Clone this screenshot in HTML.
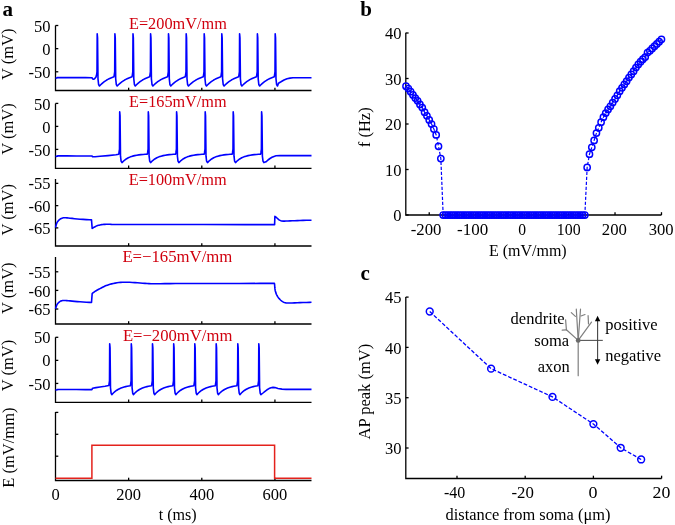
<!DOCTYPE html>
<html><head><meta charset="utf-8"><style>
html,body{margin:0;padding:0;background:#fff;overflow:hidden;width:675px;height:525px;}
svg{display:block;will-change:transform;}
text{font-family:"Liberation Serif", serif;fill:#000;}
</style></head><body>
<svg width="675" height="525" viewBox="0 0 675 525">
<rect width="675" height="525" fill="#fff"/>
<path d="M55.50 25.50V90.50H311.50" fill="none" stroke="#000" stroke-width="1.30"/>
<path d="M128.64 90.50V87.70" stroke="#000" stroke-width="1.30"/>
<path d="M201.79 90.50V87.70" stroke="#000" stroke-width="1.30"/>
<path d="M274.93 90.50V87.70" stroke="#000" stroke-width="1.30"/>
<path d="M55.50 25.50H58.30" stroke="#000" stroke-width="1.30"/>
<text x="50.6" y="31.60" text-anchor="end" font-size="16.5">50</text>
<path d="M55.50 48.64H58.30" stroke="#000" stroke-width="1.30"/>
<text x="50.6" y="54.74" text-anchor="end" font-size="16.5">0</text>
<path d="M55.50 71.79H58.30" stroke="#000" stroke-width="1.30"/>
<text x="50.6" y="77.89" text-anchor="end" font-size="16.5">-50</text>
<text transform="translate(13.3 54.30) rotate(-90)" text-anchor="middle" font-size="16.5">V (mV)</text>
<path d="M55.50 103.40V168.30H311.50" fill="none" stroke="#000" stroke-width="1.30"/>
<path d="M128.64 168.30V165.50" stroke="#000" stroke-width="1.30"/>
<path d="M201.79 168.30V165.50" stroke="#000" stroke-width="1.30"/>
<path d="M274.93 168.30V165.50" stroke="#000" stroke-width="1.30"/>
<path d="M55.50 103.40H58.30" stroke="#000" stroke-width="1.30"/>
<text x="50.6" y="109.50" text-anchor="end" font-size="16.5">50</text>
<path d="M55.50 126.40H58.30" stroke="#000" stroke-width="1.30"/>
<text x="50.6" y="132.50" text-anchor="end" font-size="16.5">0</text>
<path d="M55.50 149.40H58.30" stroke="#000" stroke-width="1.30"/>
<text x="50.6" y="155.50" text-anchor="end" font-size="16.5">-50</text>
<text transform="translate(13.3 129.00) rotate(-90)" text-anchor="middle" font-size="16.5">V (mV)</text>
<path d="M55.50 178.90V246.00H311.50" fill="none" stroke="#000" stroke-width="1.30"/>
<path d="M128.64 246.00V243.20" stroke="#000" stroke-width="1.30"/>
<path d="M201.79 246.00V243.20" stroke="#000" stroke-width="1.30"/>
<path d="M274.93 246.00V243.20" stroke="#000" stroke-width="1.30"/>
<path d="M55.50 183.35H58.30" stroke="#000" stroke-width="1.30"/>
<text x="50.6" y="189.45" text-anchor="end" font-size="16.5">-55</text>
<path d="M55.50 205.62H58.30" stroke="#000" stroke-width="1.30"/>
<text x="50.6" y="211.72" text-anchor="end" font-size="16.5">-60</text>
<path d="M55.50 227.89H58.30" stroke="#000" stroke-width="1.30"/>
<text x="50.6" y="233.99" text-anchor="end" font-size="16.5">-65</text>
<text transform="translate(13.3 209.80) rotate(-90)" text-anchor="middle" font-size="16.5">V (mV)</text>
<path d="M55.50 256.90V324.00H311.50" fill="none" stroke="#000" stroke-width="1.30"/>
<path d="M128.64 324.00V321.20" stroke="#000" stroke-width="1.30"/>
<path d="M201.79 324.00V321.20" stroke="#000" stroke-width="1.30"/>
<path d="M274.93 324.00V321.20" stroke="#000" stroke-width="1.30"/>
<path d="M55.50 271.79H58.30" stroke="#000" stroke-width="1.30"/>
<text x="50.6" y="277.89" text-anchor="end" font-size="16.5">-55</text>
<path d="M55.50 290.40H58.30" stroke="#000" stroke-width="1.30"/>
<text x="50.6" y="296.50" text-anchor="end" font-size="16.5">-60</text>
<path d="M55.50 309.01H58.30" stroke="#000" stroke-width="1.30"/>
<text x="50.6" y="315.11" text-anchor="end" font-size="16.5">-65</text>
<text transform="translate(13.3 288.20) rotate(-90)" text-anchor="middle" font-size="16.5">V (mV)</text>
<path d="M55.50 337.30V402.30H311.50" fill="none" stroke="#000" stroke-width="1.30"/>
<path d="M128.64 402.30V399.50" stroke="#000" stroke-width="1.30"/>
<path d="M201.79 402.30V399.50" stroke="#000" stroke-width="1.30"/>
<path d="M274.93 402.30V399.50" stroke="#000" stroke-width="1.30"/>
<path d="M55.50 337.30H58.30" stroke="#000" stroke-width="1.30"/>
<text x="50.6" y="343.40" text-anchor="end" font-size="16.5">50</text>
<path d="M55.50 360.37H58.30" stroke="#000" stroke-width="1.30"/>
<text x="50.6" y="366.47" text-anchor="end" font-size="16.5">0</text>
<path d="M55.50 383.44H58.30" stroke="#000" stroke-width="1.30"/>
<text x="50.6" y="389.54" text-anchor="end" font-size="16.5">-50</text>
<text transform="translate(13.3 365.60) rotate(-90)" text-anchor="middle" font-size="16.5">V (mV)</text>
<path d="M55.50 412.10V480.50H311.50" fill="none" stroke="#000" stroke-width="1.30"/>
<path d="M128.64 480.50V477.70" stroke="#000" stroke-width="1.30"/>
<path d="M201.79 480.50V477.70" stroke="#000" stroke-width="1.30"/>
<path d="M274.93 480.50V477.70" stroke="#000" stroke-width="1.30"/>
<path d="M55.50 412.40H58.30" stroke="#000" stroke-width="1.30"/>
<path d="M55.50 434.30H58.30" stroke="#000" stroke-width="1.30"/>
<path d="M55.50 456.20H58.30" stroke="#000" stroke-width="1.30"/>
<text transform="translate(14.2 447.6) rotate(-90)" text-anchor="middle" font-size="16.5">E (mV/mm)</text>
<text x="129.00" y="28.70" font-size="16.5" style="fill:#d0000e" textLength="97.80" lengthAdjust="spacingAndGlyphs">E=200mV/mm</text>
<text x="129.10" y="107.00" font-size="16.5" style="fill:#d0000e" textLength="97.50" lengthAdjust="spacingAndGlyphs">E=165mV/mm</text>
<text x="128.70" y="184.90" font-size="16.5" style="fill:#d0000e" textLength="97.90" lengthAdjust="spacingAndGlyphs">E=100mV/mm</text>
<text x="122.40" y="262.40" font-size="16.5" style="fill:#d0000e" textLength="110.00" lengthAdjust="spacingAndGlyphs">E=−165mV/mm</text>
<text x="122.90" y="340.60" font-size="16.5" style="fill:#d0000e" textLength="109.50" lengthAdjust="spacingAndGlyphs">E=−200mV/mm</text>
<path d="M55.50 78.30L55.84 78.20L56.31 78.06L56.88 77.92L57.50 77.80L57.52 77.72L57.17 77.66L57.74 77.62L60.50 77.60L67.06 77.61L76.32 77.64L85.49 77.67L91.77 77.70L92.07 77.80L92.67 79.00L93.57 79.30L94.57 78.80L96.00 77.00L96.50 75.30L97.00 71.80L97.20 33.70L97.55 37.70L98.00 78.80L98.60 84.50L99.50 86.00L100.70 84.75L101.90 83.61L103.10 82.59L104.30 81.66L105.50 80.82L106.70 80.06L107.90 79.37L109.10 78.75L110.30 78.19L111.50 77.68L112.70 77.22L113.90 76.80L114.20 75.30L114.70 71.80L114.90 33.70L115.25 37.70L115.70 78.80L116.30 84.50L117.20 86.00L118.43 84.75L119.67 83.61L120.90 82.59L122.13 81.66L123.37 80.82L124.60 80.06L125.83 79.37L127.07 78.75L128.30 78.19L129.53 77.68L130.77 77.22L132.00 76.80L132.30 75.30L132.80 71.80L133.00 33.70L133.35 37.70L133.80 78.80L134.40 84.50L135.30 86.00L136.49 84.75L137.68 83.61L138.88 82.59L140.07 81.66L141.26 80.82L142.45 80.06L143.64 79.37L144.83 78.75L146.03 78.19L147.22 77.68L148.41 77.22L149.60 76.80L149.90 75.30L150.40 71.80L150.60 33.70L150.95 37.70L151.40 78.80L152.00 84.50L152.90 86.00L154.12 84.75L155.33 83.61L156.55 82.59L157.77 81.66L158.98 80.82L160.20 80.06L161.42 79.37L162.63 78.75L163.85 78.19L165.07 77.68L166.28 77.22L167.50 76.80L167.80 75.30L168.30 71.80L168.50 33.70L168.85 37.70L169.30 78.80L169.90 84.50L170.80 86.00L172.00 84.75L173.20 83.61L174.40 82.59L175.60 81.66L176.80 80.82L178.00 80.06L179.20 79.37L180.40 78.75L181.60 78.19L182.80 77.68L184.00 77.22L185.20 76.80L185.50 75.30L186.00 71.80L186.20 33.70L186.55 37.70L187.00 78.80L187.60 84.50L188.50 86.00L189.72 84.75L190.95 83.61L192.18 82.59L193.40 81.66L194.62 80.82L195.85 80.06L197.07 79.37L198.30 78.75L199.52 78.19L200.75 77.68L201.97 77.22L203.20 76.80L203.50 75.30L204.00 71.80L204.20 33.70L204.55 37.70L205.00 78.80L205.60 84.50L206.50 86.00L207.69 84.75L208.88 83.61L210.07 82.59L211.27 81.66L212.46 80.82L213.65 80.06L214.84 79.37L216.03 78.75L217.22 78.19L218.42 77.68L219.61 77.22L220.80 76.80L221.10 75.30L221.60 71.80L221.80 33.70L222.15 37.70L222.60 78.80L223.20 84.50L224.10 86.00L225.31 84.75L226.52 83.61L227.72 82.59L228.93 81.66L230.14 80.82L231.35 80.06L232.56 79.37L233.77 78.75L234.97 78.19L236.18 77.68L237.39 77.22L238.60 76.80L238.90 75.30L239.40 71.80L239.60 33.70L239.95 37.70L240.40 78.80L241.00 84.50L241.90 86.00L243.11 84.75L244.32 83.61L245.53 82.59L246.73 81.66L247.94 80.82L249.15 80.06L250.36 79.37L251.57 78.75L252.77 78.19L253.98 77.68L255.19 77.22L256.40 76.80L256.70 75.30L257.20 71.80L257.40 33.70L257.75 37.70L258.20 78.80L258.80 84.50L259.70 86.00L260.91 84.75L262.12 83.61L263.32 82.59L264.53 81.66L265.74 80.82L266.95 80.06L268.16 79.37L269.37 78.75L270.57 78.19L271.78 77.68L272.99 77.22L274.20 76.80L274.50 75.30L275.00 71.80L275.20 33.70L275.55 37.70L276.00 78.80L276.60 84.50L277.50 86.00L278.50 83.20L281.00 81.80L284.00 80.00L287.00 78.80L290.00 78.10L293.00 77.80L311.50 77.80" fill="none" stroke="#0000ff" stroke-width="1.60" stroke-linejoin="round"/>
<path d="M55.50 156.60L55.84 156.50L56.31 156.36L56.88 156.22L57.50 156.10L57.52 156.02L57.17 155.96L57.74 155.92L60.50 155.90L67.06 155.91L76.32 155.94L85.49 155.98L91.77 156.00L92.07 156.00L92.57 156.80L95.07 156.70L100.00 156.30L108.00 155.60L116.00 154.80L118.80 154.20L119.00 152.70L119.50 149.20L119.70 111.90L120.05 115.90L120.50 156.20L121.10 161.10L122.00 162.60L124.11 160.55L126.22 158.98L128.32 157.78L130.43 156.86L132.54 156.15L134.65 155.61L136.76 155.20L138.87 154.88L140.97 154.64L143.08 154.45L145.19 154.31L147.30 154.20L147.60 152.70L148.10 149.20L148.30 111.90L148.65 115.90L149.10 156.20L149.70 161.10L150.60 162.60L152.68 160.55L154.77 158.98L156.85 157.78L158.93 156.86L161.02 156.15L163.10 155.61L165.18 155.20L167.27 154.88L169.35 154.64L171.43 154.45L173.52 154.31L175.60 154.20L175.90 152.70L176.40 149.20L176.60 111.90L176.95 115.90L177.40 156.20L178.00 161.10L178.90 162.60L181.01 160.55L183.12 158.98L185.22 157.78L187.33 156.86L189.44 156.15L191.55 155.61L193.66 155.20L195.77 154.88L197.88 154.64L199.98 154.45L202.09 154.31L204.20 154.20L204.50 152.70L205.00 149.20L205.20 111.90L205.55 115.90L206.00 156.20L206.60 161.10L207.50 162.60L209.56 160.55L211.62 158.98L213.68 157.78L215.73 156.86L217.79 156.15L219.85 155.61L221.91 155.20L223.97 154.88L226.02 154.64L228.08 154.45L230.14 154.31L232.20 154.20L232.50 152.70L233.00 149.20L233.20 111.90L233.55 115.90L234.00 156.20L234.60 161.10L235.50 162.60L237.59 160.55L239.68 158.98L241.77 157.78L243.87 156.86L245.96 156.15L248.05 155.61L250.14 155.20L252.23 154.88L254.32 154.64L256.42 154.45L258.51 154.31L260.60 154.20L260.90 152.70L261.40 149.20L261.60 111.90L261.95 115.90L262.40 156.20L263.00 161.10L263.90 162.60L266.00 161.80L268.00 160.00L270.00 158.50L272.00 157.30L274.00 156.40L276.00 155.80L280.00 155.60L311.50 155.60" fill="none" stroke="#0000ff" stroke-width="1.60" stroke-linejoin="round"/>
<path d="M55.50 390.20L55.84 390.10L56.31 389.96L56.88 389.82L57.50 389.70L57.52 389.62L57.17 389.56L57.74 389.52L60.50 389.50L67.06 389.51L76.32 389.54L85.49 389.58L91.77 389.60L92.07 389.30L92.57 388.20L96.00 387.60L100.00 387.00L105.00 386.20L108.80 385.50L109.00 384.30L109.50 380.80L109.70 343.70L110.05 347.70L110.50 387.80L111.10 393.20L111.80 394.70L113.34 393.02L114.88 391.63L116.42 390.47L117.97 389.50L119.51 388.69L121.05 388.02L122.59 387.46L124.13 387.00L125.67 386.61L127.22 386.29L128.76 386.02L130.30 385.80L130.60 384.30L131.10 380.80L131.30 343.70L131.65 347.70L132.10 387.80L132.70 393.20L133.40 394.70L134.91 393.02L136.42 391.63L137.93 390.47L139.43 389.50L140.94 388.69L142.45 388.02L143.96 387.46L145.47 387.00L146.97 386.61L148.48 386.29L149.99 386.02L151.50 385.80L151.80 384.30L152.30 380.80L152.50 343.70L152.85 347.70L153.30 387.80L153.90 393.20L154.60 394.70L156.11 393.02L157.62 391.63L159.12 390.47L160.63 389.50L162.14 388.69L163.65 388.02L165.16 387.46L166.67 387.00L168.18 386.61L169.68 386.29L171.19 386.02L172.70 385.80L173.00 384.30L173.50 380.80L173.70 343.70L174.05 347.70L174.50 387.80L175.10 393.20L175.80 394.70L177.30 393.02L178.80 391.63L180.30 390.47L181.80 389.50L183.30 388.69L184.80 388.02L186.30 387.46L187.80 387.00L189.30 386.61L190.80 386.29L192.30 386.02L193.80 385.80L194.10 384.30L194.60 380.80L194.80 343.70L195.15 347.70L195.60 387.80L196.20 393.20L196.90 394.70L198.43 393.02L199.95 391.63L201.47 390.47L203.00 389.50L204.53 388.69L206.05 388.02L207.57 387.46L209.10 387.00L210.62 386.61L212.15 386.29L213.67 386.02L215.20 385.80L215.50 384.30L216.00 380.80L216.20 343.70L216.55 347.70L217.00 387.80L217.60 393.20L218.30 394.70L219.84 393.02L221.38 391.63L222.93 390.47L224.47 389.50L226.01 388.69L227.55 388.02L229.09 387.46L230.63 387.00L232.17 386.61L233.72 386.29L235.26 386.02L236.80 385.80L237.10 384.30L237.60 380.80L237.80 343.70L238.15 347.70L238.60 387.80L239.20 393.20L239.90 394.70L241.39 393.02L242.88 391.63L244.38 390.47L245.87 389.50L247.36 388.69L248.85 388.02L250.34 387.46L251.83 387.00L253.33 386.61L254.82 386.29L256.31 386.02L257.80 385.80L258.10 384.30L258.60 380.80L258.80 343.70L259.15 347.70L259.60 387.80L260.20 393.20L260.90 394.70L263.00 393.00L265.00 391.30L267.00 389.80L269.00 388.60L271.00 387.80L273.00 387.40L275.00 387.60L278.00 388.50L282.00 389.10L286.00 389.40L311.50 389.40" fill="none" stroke="#0000ff" stroke-width="1.60" stroke-linejoin="round"/>
<path d="M55.50 227.60L55.75 226.65L56.09 225.29L56.52 223.83L57.00 222.60L57.55 221.67L58.19 220.88L58.85 220.19L59.50 219.60L60.11 219.12L60.72 218.74L61.34 218.45L62.00 218.20L62.67 217.99L63.34 217.83L64.10 217.73L65.00 217.70L65.99 217.74L67.06 217.86L68.35 218.02L70.00 218.20L72.11 218.42L74.59 218.69L77.28 218.96L80.00 219.20L83.04 219.41L86.38 219.61L89.40 219.78L91.50 219.90L92.17 228.40L92.47 228.21L92.90 227.94L93.42 227.63L94.00 227.30L94.67 226.94L95.43 226.53L96.22 226.14L97.00 225.80L97.73 225.55L98.44 225.34L99.18 225.17L100.00 225.00L100.88 224.82L101.81 224.66L102.84 224.51L104.00 224.40L105.03 224.33L106.00 224.30L107.47 224.29L110.00 224.30L111.10 224.33L111.34 224.39L115.91 224.45L130.00 224.50L160.78 224.53L203.55 224.56L245.70 224.58L274.60 224.60L274.90 216.40L275.18 216.60L275.57 216.89L276.03 217.23L276.50 217.60L276.97 218.02L277.48 218.50L277.99 218.98L278.50 219.40L278.99 219.76L279.47 220.08L279.96 220.36L280.50 220.60L280.98 220.79L281.44 220.94L282.05 221.04L283.00 221.10L284.36 221.10L286.03 221.06L287.93 220.98L290.00 220.90L292.25 220.81L294.72 220.71L297.32 220.60L300.00 220.50L303.04 220.41L306.38 220.32L309.40 220.25L311.50 220.20" fill="none" stroke="#0000ff" stroke-width="1.60" stroke-linejoin="round"/>
<path d="M55.50 308.80L55.75 308.01L56.09 306.88L56.52 305.65L57.00 304.60L57.55 303.76L58.19 303.01L58.85 302.35L59.50 301.80L60.12 301.38L60.75 301.09L61.38 300.87L62.00 300.70L62.55 300.57L63.06 300.51L63.66 300.49L64.50 300.50L65.56 300.55L66.78 300.63L68.24 300.75L70.00 300.90L72.15 301.09L74.62 301.33L77.29 301.58L80.00 301.80L83.04 302.01L86.38 302.21L89.40 302.38L91.50 302.50L92.17 293.60L92.63 293.22L93.27 292.68L94.07 292.04L95.00 291.40L96.10 290.74L97.36 290.02L98.70 289.29L100.00 288.60L101.25 287.94L102.50 287.29L103.75 286.67L105.00 286.10L106.20 285.59L107.38 285.14L108.61 284.71L110.00 284.30L111.59 283.88L113.33 283.48L115.15 283.10L117.00 282.80L118.81 282.56L120.64 282.38L122.58 282.26L124.70 282.20L127.10 282.22L129.71 282.31L132.39 282.45L135.00 282.60L137.55 282.78L140.10 283.00L142.60 283.22L145.00 283.40L147.09 283.54L148.96 283.66L151.02 283.75L153.70 283.80L156.92 283.79L160.52 283.73L164.78 283.66L170.00 283.60L175.50 283.57L181.37 283.54L189.06 283.52L200.00 283.50L217.22 283.47L239.07 283.44L259.99 283.42L274.40 283.40L274.60 284.50L274.68 285.60L274.79 287.19L274.95 288.93L275.20 290.50L275.54 291.84L275.95 293.12L276.44 294.34L277.00 295.50L277.67 296.61L278.43 297.66L279.22 298.64L280.00 299.50L280.75 300.25L281.50 300.89L282.25 301.44L283.00 301.90L283.73 302.27L284.44 302.54L285.18 302.75L286.00 302.90L286.79 303.00L287.56 303.04L288.55 303.03L290.00 303.00L292.04 302.93L294.53 302.83L297.25 302.70L300.00 302.60L303.04 302.51L306.38 302.43L309.40 302.35L311.50 302.30" fill="none" stroke="#0000ff" stroke-width="1.60" stroke-linejoin="round"/>
<path d="M55.50 478.2H91.90V445.3H274.60V478.2H311.50" fill="none" stroke="#e4221c" stroke-width="1.5"/>
<text x="55.50" y="500.0" text-anchor="middle" font-size="16.5">0</text>
<text x="128.64" y="500.0" text-anchor="middle" font-size="16.5">200</text>
<text x="201.79" y="500.0" text-anchor="middle" font-size="16.5">400</text>
<text x="274.93" y="500.0" text-anchor="middle" font-size="16.5">600</text>
<text x="158.7" y="519.7" font-size="16.5" textLength="38" lengthAdjust="spacingAndGlyphs">t (ms)</text>
<text x="2.5" y="15.6" font-size="21" font-weight="bold">a</text>
<path d="M405.8 32.8V215.0H661.5" fill="none" stroke="#000" stroke-width="1.30"/>
<path d="M405.8 215.00H408.6" stroke="#000" stroke-width="1.30"/>
<text x="401.6" y="221.10" text-anchor="end" font-size="16.5">0</text>
<path d="M405.8 169.50H408.6" stroke="#000" stroke-width="1.30"/>
<text x="401.6" y="175.60" text-anchor="end" font-size="16.5">10</text>
<path d="M405.8 124.00H408.6" stroke="#000" stroke-width="1.30"/>
<text x="401.6" y="130.10" text-anchor="end" font-size="16.5">20</text>
<path d="M405.8 78.50H408.6" stroke="#000" stroke-width="1.30"/>
<text x="401.6" y="84.60" text-anchor="end" font-size="16.5">30</text>
<path d="M405.8 33.00H408.6" stroke="#000" stroke-width="1.30"/>
<text x="401.6" y="39.10" text-anchor="end" font-size="16.5">40</text>
<path d="M429.23 215.0V212.2" stroke="#000" stroke-width="1.30"/>
<text x="410.80" y="234.8" font-size="16.5" textLength="30.70" lengthAdjust="spacingAndGlyphs">-200</text>
<path d="M475.68 215.0V212.2" stroke="#000" stroke-width="1.30"/>
<text x="457.10" y="234.8" font-size="16.5" textLength="31.10" lengthAdjust="spacingAndGlyphs">-100</text>
<path d="M522.12 215.0V212.2" stroke="#000" stroke-width="1.30"/>
<text x="518.30" y="234.8" font-size="16.5" textLength="7.80" lengthAdjust="spacingAndGlyphs">0</text>
<path d="M568.58 215.0V212.2" stroke="#000" stroke-width="1.30"/>
<text x="556.80" y="234.8" font-size="16.5" textLength="23.80" lengthAdjust="spacingAndGlyphs">100</text>
<path d="M615.02 215.0V212.2" stroke="#000" stroke-width="1.30"/>
<text x="601.80" y="234.8" font-size="16.5" textLength="25.10" lengthAdjust="spacingAndGlyphs">200</text>
<path d="M661.48 215.0V212.2" stroke="#000" stroke-width="1.30"/>
<text x="648.70" y="234.8" font-size="16.5" textLength="24.90" lengthAdjust="spacingAndGlyphs">300</text>
<text x="488.9" y="255.7" font-size="16.5" textLength="77.8" lengthAdjust="spacingAndGlyphs">E (mV/mm)</text>
<text transform="translate(369.8 127.3) rotate(-90)" text-anchor="middle" font-size="16.5">f (Hz)</text>
<text x="360.3" y="15.8" font-size="21" font-weight="bold">b</text>
<path d="M406.00 86.24L408.32 88.51L410.64 91.69L412.97 94.88L415.29 98.07L417.61 100.80L419.94 104.44L422.26 107.62L424.58 112.17L426.90 115.81L429.23 119.91L431.55 124.00L433.87 129.00L436.19 134.92L438.51 146.30L440.84 158.58L443.16 215.00L445.48 215.00L447.81 215.00L450.13 215.00L452.45 215.00L454.77 215.00L457.10 215.00L459.42 215.00L461.74 215.00L464.06 215.00L466.38 215.00L468.71 215.00L471.03 215.00L473.35 215.00L475.68 215.00L478.00 215.00L480.32 215.00L482.64 215.00L484.97 215.00L487.29 215.00L489.61 215.00L491.93 215.00L494.25 215.00L496.58 215.00L498.90 215.00L501.22 215.00L503.55 215.00L505.87 215.00L508.19 215.00L510.51 215.00L512.84 215.00L515.16 215.00L517.48 215.00L519.80 215.00L522.12 215.00L524.45 215.00L526.77 215.00L529.09 215.00L531.41 215.00L533.74 215.00L536.06 215.00L538.38 215.00L540.71 215.00L543.03 215.00L545.35 215.00L547.67 215.00L550.00 215.00L552.32 215.00L554.64 215.00L556.96 215.00L559.28 215.00L561.61 215.00L563.93 215.00L566.25 215.00L568.58 215.00L570.90 215.00L573.22 215.00L575.54 215.00L577.87 215.00L580.19 215.00L582.51 215.00L584.83 215.00L587.15 167.41L589.48 154.17L591.80 147.34L594.12 140.43L596.45 133.10L598.77 127.82L601.09 122.18L603.41 117.17L605.74 113.08L608.06 109.44L610.38 106.26L612.70 102.62L615.02 98.98L617.35 95.34L619.67 91.24L621.99 87.83L624.32 84.42L626.64 81.23L628.96 77.59L631.28 74.41L633.61 71.22L635.93 67.58L638.25 64.40L640.57 61.66L642.89 59.16L645.22 57.11L647.54 52.56L649.86 50.75L652.18 48.47L654.51 46.19L656.83 43.92L659.15 41.65L661.48 39.37" fill="none" stroke="#0000ff" stroke-width="1.2" stroke-dasharray="3.2 1.8"/>
<circle cx="406.00" cy="86.24" r="3.15" fill="none" stroke="#0000ff" stroke-width="1.45"/>
<circle cx="408.32" cy="88.51" r="3.15" fill="none" stroke="#0000ff" stroke-width="1.45"/>
<circle cx="410.64" cy="91.69" r="3.15" fill="none" stroke="#0000ff" stroke-width="1.45"/>
<circle cx="412.97" cy="94.88" r="3.15" fill="none" stroke="#0000ff" stroke-width="1.45"/>
<circle cx="415.29" cy="98.07" r="3.15" fill="none" stroke="#0000ff" stroke-width="1.45"/>
<circle cx="417.61" cy="100.80" r="3.15" fill="none" stroke="#0000ff" stroke-width="1.45"/>
<circle cx="419.94" cy="104.44" r="3.15" fill="none" stroke="#0000ff" stroke-width="1.45"/>
<circle cx="422.26" cy="107.62" r="3.15" fill="none" stroke="#0000ff" stroke-width="1.45"/>
<circle cx="424.58" cy="112.17" r="3.15" fill="none" stroke="#0000ff" stroke-width="1.45"/>
<circle cx="426.90" cy="115.81" r="3.15" fill="none" stroke="#0000ff" stroke-width="1.45"/>
<circle cx="429.23" cy="119.91" r="3.15" fill="none" stroke="#0000ff" stroke-width="1.45"/>
<circle cx="431.55" cy="124.00" r="3.15" fill="none" stroke="#0000ff" stroke-width="1.45"/>
<circle cx="433.87" cy="129.00" r="3.15" fill="none" stroke="#0000ff" stroke-width="1.45"/>
<circle cx="436.19" cy="134.92" r="3.15" fill="none" stroke="#0000ff" stroke-width="1.45"/>
<circle cx="438.51" cy="146.30" r="3.15" fill="none" stroke="#0000ff" stroke-width="1.45"/>
<circle cx="440.84" cy="158.58" r="3.15" fill="none" stroke="#0000ff" stroke-width="1.45"/>
<circle cx="443.16" cy="215.00" r="3.15" fill="none" stroke="#0000ff" stroke-width="1.45"/>
<circle cx="445.48" cy="215.00" r="3.15" fill="none" stroke="#0000ff" stroke-width="1.45"/>
<circle cx="447.81" cy="215.00" r="3.15" fill="none" stroke="#0000ff" stroke-width="1.45"/>
<circle cx="450.13" cy="215.00" r="3.15" fill="none" stroke="#0000ff" stroke-width="1.45"/>
<circle cx="452.45" cy="215.00" r="3.15" fill="none" stroke="#0000ff" stroke-width="1.45"/>
<circle cx="454.77" cy="215.00" r="3.15" fill="none" stroke="#0000ff" stroke-width="1.45"/>
<circle cx="457.10" cy="215.00" r="3.15" fill="none" stroke="#0000ff" stroke-width="1.45"/>
<circle cx="459.42" cy="215.00" r="3.15" fill="none" stroke="#0000ff" stroke-width="1.45"/>
<circle cx="461.74" cy="215.00" r="3.15" fill="none" stroke="#0000ff" stroke-width="1.45"/>
<circle cx="464.06" cy="215.00" r="3.15" fill="none" stroke="#0000ff" stroke-width="1.45"/>
<circle cx="466.38" cy="215.00" r="3.15" fill="none" stroke="#0000ff" stroke-width="1.45"/>
<circle cx="468.71" cy="215.00" r="3.15" fill="none" stroke="#0000ff" stroke-width="1.45"/>
<circle cx="471.03" cy="215.00" r="3.15" fill="none" stroke="#0000ff" stroke-width="1.45"/>
<circle cx="473.35" cy="215.00" r="3.15" fill="none" stroke="#0000ff" stroke-width="1.45"/>
<circle cx="475.68" cy="215.00" r="3.15" fill="none" stroke="#0000ff" stroke-width="1.45"/>
<circle cx="478.00" cy="215.00" r="3.15" fill="none" stroke="#0000ff" stroke-width="1.45"/>
<circle cx="480.32" cy="215.00" r="3.15" fill="none" stroke="#0000ff" stroke-width="1.45"/>
<circle cx="482.64" cy="215.00" r="3.15" fill="none" stroke="#0000ff" stroke-width="1.45"/>
<circle cx="484.97" cy="215.00" r="3.15" fill="none" stroke="#0000ff" stroke-width="1.45"/>
<circle cx="487.29" cy="215.00" r="3.15" fill="none" stroke="#0000ff" stroke-width="1.45"/>
<circle cx="489.61" cy="215.00" r="3.15" fill="none" stroke="#0000ff" stroke-width="1.45"/>
<circle cx="491.93" cy="215.00" r="3.15" fill="none" stroke="#0000ff" stroke-width="1.45"/>
<circle cx="494.25" cy="215.00" r="3.15" fill="none" stroke="#0000ff" stroke-width="1.45"/>
<circle cx="496.58" cy="215.00" r="3.15" fill="none" stroke="#0000ff" stroke-width="1.45"/>
<circle cx="498.90" cy="215.00" r="3.15" fill="none" stroke="#0000ff" stroke-width="1.45"/>
<circle cx="501.22" cy="215.00" r="3.15" fill="none" stroke="#0000ff" stroke-width="1.45"/>
<circle cx="503.55" cy="215.00" r="3.15" fill="none" stroke="#0000ff" stroke-width="1.45"/>
<circle cx="505.87" cy="215.00" r="3.15" fill="none" stroke="#0000ff" stroke-width="1.45"/>
<circle cx="508.19" cy="215.00" r="3.15" fill="none" stroke="#0000ff" stroke-width="1.45"/>
<circle cx="510.51" cy="215.00" r="3.15" fill="none" stroke="#0000ff" stroke-width="1.45"/>
<circle cx="512.84" cy="215.00" r="3.15" fill="none" stroke="#0000ff" stroke-width="1.45"/>
<circle cx="515.16" cy="215.00" r="3.15" fill="none" stroke="#0000ff" stroke-width="1.45"/>
<circle cx="517.48" cy="215.00" r="3.15" fill="none" stroke="#0000ff" stroke-width="1.45"/>
<circle cx="519.80" cy="215.00" r="3.15" fill="none" stroke="#0000ff" stroke-width="1.45"/>
<circle cx="522.12" cy="215.00" r="3.15" fill="none" stroke="#0000ff" stroke-width="1.45"/>
<circle cx="524.45" cy="215.00" r="3.15" fill="none" stroke="#0000ff" stroke-width="1.45"/>
<circle cx="526.77" cy="215.00" r="3.15" fill="none" stroke="#0000ff" stroke-width="1.45"/>
<circle cx="529.09" cy="215.00" r="3.15" fill="none" stroke="#0000ff" stroke-width="1.45"/>
<circle cx="531.41" cy="215.00" r="3.15" fill="none" stroke="#0000ff" stroke-width="1.45"/>
<circle cx="533.74" cy="215.00" r="3.15" fill="none" stroke="#0000ff" stroke-width="1.45"/>
<circle cx="536.06" cy="215.00" r="3.15" fill="none" stroke="#0000ff" stroke-width="1.45"/>
<circle cx="538.38" cy="215.00" r="3.15" fill="none" stroke="#0000ff" stroke-width="1.45"/>
<circle cx="540.71" cy="215.00" r="3.15" fill="none" stroke="#0000ff" stroke-width="1.45"/>
<circle cx="543.03" cy="215.00" r="3.15" fill="none" stroke="#0000ff" stroke-width="1.45"/>
<circle cx="545.35" cy="215.00" r="3.15" fill="none" stroke="#0000ff" stroke-width="1.45"/>
<circle cx="547.67" cy="215.00" r="3.15" fill="none" stroke="#0000ff" stroke-width="1.45"/>
<circle cx="550.00" cy="215.00" r="3.15" fill="none" stroke="#0000ff" stroke-width="1.45"/>
<circle cx="552.32" cy="215.00" r="3.15" fill="none" stroke="#0000ff" stroke-width="1.45"/>
<circle cx="554.64" cy="215.00" r="3.15" fill="none" stroke="#0000ff" stroke-width="1.45"/>
<circle cx="556.96" cy="215.00" r="3.15" fill="none" stroke="#0000ff" stroke-width="1.45"/>
<circle cx="559.28" cy="215.00" r="3.15" fill="none" stroke="#0000ff" stroke-width="1.45"/>
<circle cx="561.61" cy="215.00" r="3.15" fill="none" stroke="#0000ff" stroke-width="1.45"/>
<circle cx="563.93" cy="215.00" r="3.15" fill="none" stroke="#0000ff" stroke-width="1.45"/>
<circle cx="566.25" cy="215.00" r="3.15" fill="none" stroke="#0000ff" stroke-width="1.45"/>
<circle cx="568.58" cy="215.00" r="3.15" fill="none" stroke="#0000ff" stroke-width="1.45"/>
<circle cx="570.90" cy="215.00" r="3.15" fill="none" stroke="#0000ff" stroke-width="1.45"/>
<circle cx="573.22" cy="215.00" r="3.15" fill="none" stroke="#0000ff" stroke-width="1.45"/>
<circle cx="575.54" cy="215.00" r="3.15" fill="none" stroke="#0000ff" stroke-width="1.45"/>
<circle cx="577.87" cy="215.00" r="3.15" fill="none" stroke="#0000ff" stroke-width="1.45"/>
<circle cx="580.19" cy="215.00" r="3.15" fill="none" stroke="#0000ff" stroke-width="1.45"/>
<circle cx="582.51" cy="215.00" r="3.15" fill="none" stroke="#0000ff" stroke-width="1.45"/>
<circle cx="584.83" cy="215.00" r="3.15" fill="none" stroke="#0000ff" stroke-width="1.45"/>
<circle cx="587.15" cy="167.41" r="3.15" fill="none" stroke="#0000ff" stroke-width="1.45"/>
<circle cx="589.48" cy="154.17" r="3.15" fill="none" stroke="#0000ff" stroke-width="1.45"/>
<circle cx="591.80" cy="147.34" r="3.15" fill="none" stroke="#0000ff" stroke-width="1.45"/>
<circle cx="594.12" cy="140.43" r="3.15" fill="none" stroke="#0000ff" stroke-width="1.45"/>
<circle cx="596.45" cy="133.10" r="3.15" fill="none" stroke="#0000ff" stroke-width="1.45"/>
<circle cx="598.77" cy="127.82" r="3.15" fill="none" stroke="#0000ff" stroke-width="1.45"/>
<circle cx="601.09" cy="122.18" r="3.15" fill="none" stroke="#0000ff" stroke-width="1.45"/>
<circle cx="603.41" cy="117.17" r="3.15" fill="none" stroke="#0000ff" stroke-width="1.45"/>
<circle cx="605.74" cy="113.08" r="3.15" fill="none" stroke="#0000ff" stroke-width="1.45"/>
<circle cx="608.06" cy="109.44" r="3.15" fill="none" stroke="#0000ff" stroke-width="1.45"/>
<circle cx="610.38" cy="106.26" r="3.15" fill="none" stroke="#0000ff" stroke-width="1.45"/>
<circle cx="612.70" cy="102.62" r="3.15" fill="none" stroke="#0000ff" stroke-width="1.45"/>
<circle cx="615.02" cy="98.98" r="3.15" fill="none" stroke="#0000ff" stroke-width="1.45"/>
<circle cx="617.35" cy="95.34" r="3.15" fill="none" stroke="#0000ff" stroke-width="1.45"/>
<circle cx="619.67" cy="91.24" r="3.15" fill="none" stroke="#0000ff" stroke-width="1.45"/>
<circle cx="621.99" cy="87.83" r="3.15" fill="none" stroke="#0000ff" stroke-width="1.45"/>
<circle cx="624.32" cy="84.42" r="3.15" fill="none" stroke="#0000ff" stroke-width="1.45"/>
<circle cx="626.64" cy="81.23" r="3.15" fill="none" stroke="#0000ff" stroke-width="1.45"/>
<circle cx="628.96" cy="77.59" r="3.15" fill="none" stroke="#0000ff" stroke-width="1.45"/>
<circle cx="631.28" cy="74.41" r="3.15" fill="none" stroke="#0000ff" stroke-width="1.45"/>
<circle cx="633.61" cy="71.22" r="3.15" fill="none" stroke="#0000ff" stroke-width="1.45"/>
<circle cx="635.93" cy="67.58" r="3.15" fill="none" stroke="#0000ff" stroke-width="1.45"/>
<circle cx="638.25" cy="64.40" r="3.15" fill="none" stroke="#0000ff" stroke-width="1.45"/>
<circle cx="640.57" cy="61.66" r="3.15" fill="none" stroke="#0000ff" stroke-width="1.45"/>
<circle cx="642.89" cy="59.16" r="3.15" fill="none" stroke="#0000ff" stroke-width="1.45"/>
<circle cx="645.22" cy="57.11" r="3.15" fill="none" stroke="#0000ff" stroke-width="1.45"/>
<circle cx="647.54" cy="52.56" r="3.15" fill="none" stroke="#0000ff" stroke-width="1.45"/>
<circle cx="649.86" cy="50.75" r="3.15" fill="none" stroke="#0000ff" stroke-width="1.45"/>
<circle cx="652.18" cy="48.47" r="3.15" fill="none" stroke="#0000ff" stroke-width="1.45"/>
<circle cx="654.51" cy="46.19" r="3.15" fill="none" stroke="#0000ff" stroke-width="1.45"/>
<circle cx="656.83" cy="43.92" r="3.15" fill="none" stroke="#0000ff" stroke-width="1.45"/>
<circle cx="659.15" cy="41.65" r="3.15" fill="none" stroke="#0000ff" stroke-width="1.45"/>
<circle cx="661.48" cy="39.37" r="3.15" fill="none" stroke="#0000ff" stroke-width="1.45"/>
<path d="M405.8 297.1V478.5H661.6" fill="none" stroke="#000" stroke-width="1.30"/>
<path d="M405.8 448.00H408.6" stroke="#000" stroke-width="1.30"/>
<text x="401.6" y="454.10" text-anchor="end" font-size="16.5">30</text>
<path d="M405.8 397.70H408.6" stroke="#000" stroke-width="1.30"/>
<text x="401.6" y="403.80" text-anchor="end" font-size="16.5">35</text>
<path d="M405.8 347.40H408.6" stroke="#000" stroke-width="1.30"/>
<text x="401.6" y="353.50" text-anchor="end" font-size="16.5">40</text>
<path d="M405.8 297.10H408.6" stroke="#000" stroke-width="1.30"/>
<text x="401.6" y="303.20" text-anchor="end" font-size="16.5">45</text>
<path d="M457.00 478.5V475.7" stroke="#000" stroke-width="1.30"/>
<text x="443.90" y="498.2" font-size="16.5" textLength="21.30" lengthAdjust="spacingAndGlyphs">-40</text>
<path d="M525.20 478.5V475.7" stroke="#000" stroke-width="1.30"/>
<text x="511.50" y="498.2" font-size="16.5" textLength="22.40" lengthAdjust="spacingAndGlyphs">-20</text>
<path d="M593.40 478.5V475.7" stroke="#000" stroke-width="1.30"/>
<text x="588.60" y="498.2" font-size="16.5" textLength="9.00" lengthAdjust="spacingAndGlyphs">0</text>
<path d="M661.60 478.5V475.7" stroke="#000" stroke-width="1.30"/>
<text x="652.60" y="498.2" font-size="16.5" textLength="17.80" lengthAdjust="spacingAndGlyphs">20</text>
<text x="445.6" y="519.8" font-size="16.5" textLength="164.8" lengthAdjust="spacingAndGlyphs">distance from soma (μm)</text>
<text transform="translate(369.7 391.6) rotate(-90)" text-anchor="middle" font-size="16.5">AP peak (mV)</text>
<text x="360.6" y="279.5" font-size="21" font-weight="bold">c</text>
<path d="M429.72 311.49L491.10 368.63L552.48 396.90L593.40 424.06L620.68 447.80L641.14 459.47" fill="none" stroke="#0000ff" stroke-width="1.3" stroke-dasharray="3.8 1.9"/>
<circle cx="429.72" cy="311.49" r="3.4" fill="none" stroke="#0000ff" stroke-width="1.5"/>
<circle cx="491.10" cy="368.63" r="3.4" fill="none" stroke="#0000ff" stroke-width="1.5"/>
<circle cx="552.48" cy="396.90" r="3.4" fill="none" stroke="#0000ff" stroke-width="1.5"/>
<circle cx="593.40" cy="424.06" r="3.4" fill="none" stroke="#0000ff" stroke-width="1.5"/>
<circle cx="620.68" cy="447.80" r="3.4" fill="none" stroke="#0000ff" stroke-width="1.5"/>
<circle cx="641.14" cy="459.47" r="3.4" fill="none" stroke="#0000ff" stroke-width="1.5"/>
<g fill="none" stroke="#7f7f7f" stroke-width="1.2" stroke-linecap="round"><path d="M578.20 340.40L566.40 329.80"/><path d="M566.40 329.80L565.60 319.90"/><path d="M566.40 329.80L562.20 330.10"/><path d="M578.20 340.40L576.30 309.20"/><path d="M575.40 316.40L571.30 312.60"/><path d="M578.20 340.40L580.50 309.20"/><path d="M581.00 316.00L585.00 314.50"/><path d="M578.20 340.40L591.50 322.10"/><path d="M588.50 323.90L588.10 315.70"/><path d="M578.20 340.40L578.20 375.70"/></g>
<path d="M578.20 340.40H602.8" stroke="#555" stroke-width="1.1"/>
<circle cx="578.20" cy="340.40" r="2.4" fill="#6a6a6a"/>
<path d="M597.6 320V360.5" stroke="#444" stroke-width="1.1"/>
<path d="M597.6 315.8L600.3 321.3H594.9Z" fill="#000"/>
<path d="M597.6 364.8L600.3 359.2H594.9Z" fill="#000"/>
<text x="510.60" y="324.20" font-size="16.5">dendrite</text>
<text x="534.30" y="346.40" font-size="16.5">soma</text>
<text x="537.80" y="372.40" font-size="16.5">axon</text>
<text x="605.30" y="330.20" font-size="16.5">positive</text>
<text x="605.30" y="360.90" font-size="16.5">negative</text>
</svg>
</body></html>
